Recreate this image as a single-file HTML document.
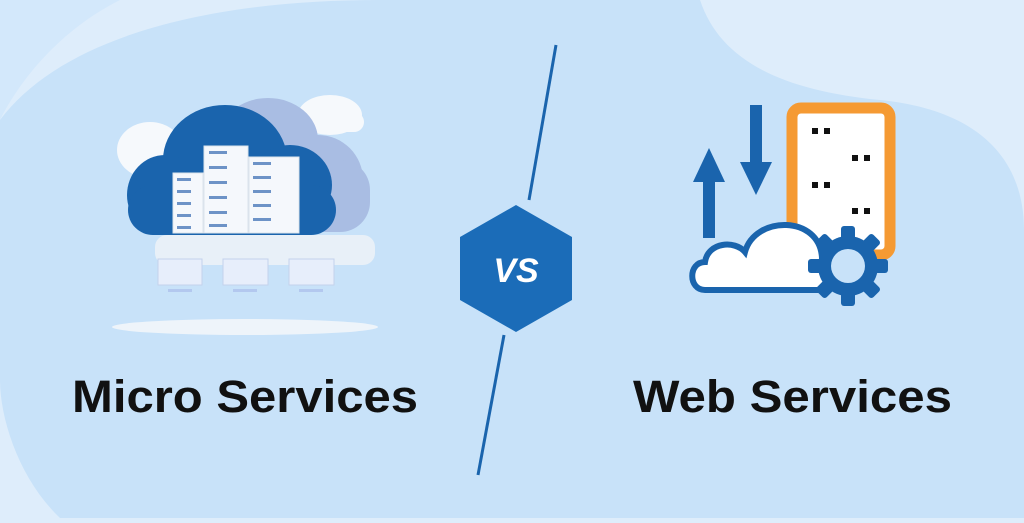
<!DOCTYPE html>
<html><head><style>
body{margin:0;width:1024px;height:518px;overflow:hidden;background:#deedfb}
text{font-family:"Liberation Sans",sans-serif;font-weight:bold}
</style></head><body>
<svg width="1024" height="518" viewBox="0 0 1024 518">
<rect width="1024" height="518" fill="#deedfb"/>
<path d="M0 120 C60 40 200 0 380 0 L700 0 C720 60 780 90 880 100 C980 110 1024 160 1024 230 L1024 518 L60 518 C20 480 0 420 0 380 Z" fill="#c8e2f9"/>
<path d="M0 0 L120 0 C60 30 20 80 0 120 Z" fill="#d3e8fb"/>
<ellipse cx="245" cy="327" rx="133" ry="8" fill="#eef4fa"/>
<g fill="#f6f9fc">
<ellipse cx="150" cy="150" rx="33" ry="28"/><ellipse cx="330" cy="115" rx="32" ry="20"/><rect x="298" y="112" width="66" height="20" rx="10"/>
<rect x="155" y="235" width="220" height="30" rx="12" fill="#e8f0f8"/>
</g>
<g fill="#a9bde3">
<ellipse cx="268" cy="140" rx="50" ry="42"/><ellipse cx="318" cy="180" rx="45" ry="45"/><rect x="250" y="160" width="120" height="72" rx="30"/>
</g>
<g fill="#1a64ad">
<ellipse cx="225" cy="160" rx="62" ry="55"/><ellipse cx="165" cy="195" rx="38" ry="40"/><ellipse cx="290" cy="185" rx="42" ry="40"/><rect x="128" y="185" width="208" height="50" rx="25"/>
</g>
<g fill="#f5f8fc" stroke="#dbe3ec">
<rect x="173" y="173" width="30" height="60"/><rect x="204" y="146" width="44" height="87"/><rect x="249" y="157" width="50" height="76"/>
</g>
<g fill="#6d93c7">
<rect x="177" y="178" width="14" height="3"/><rect x="177" y="190" width="14" height="3"/><rect x="177" y="202" width="14" height="3"/><rect x="177" y="214" width="14" height="3"/><rect x="177" y="226" width="14" height="3"/>
<rect x="209" y="151" width="18" height="3"/><rect x="209" y="166" width="18" height="3"/><rect x="209" y="181" width="18" height="3"/><rect x="209" y="196" width="18" height="3"/><rect x="209" y="211" width="18" height="3"/><rect x="209" y="224" width="18" height="3"/>
<rect x="253" y="162" width="18" height="3"/><rect x="253" y="176" width="18" height="3"/><rect x="253" y="190" width="18" height="3"/><rect x="253" y="204" width="18" height="3"/><rect x="253" y="218" width="18" height="3"/>
</g>
<g fill="#e7eefb" stroke="#c3d2ec">
<rect x="158" y="259" width="44" height="26"/><rect x="223" y="259" width="45" height="26"/><rect x="289" y="259" width="45" height="26"/>
</g>
<g fill="#b3c8ef"><rect x="168" y="289" width="24" height="3"/><rect x="233" y="289" width="24" height="3"/><rect x="299" y="289" width="24" height="3"/></g>
<line x1="556" y1="45" x2="529" y2="200" stroke="#1a64ad" stroke-width="3"/>
<line x1="504" y1="335" x2="478" y2="475" stroke="#1a64ad" stroke-width="3"/>
<polygon points="516,205 572,237 572,300 516,332 460,300 460,237" fill="#1b6cb8"/>
<text x="516" y="282" font-size="34" font-style="italic" fill="#fff" text-anchor="middle">VS</text>
<rect x="792" y="108" width="98" height="147" rx="9" fill="#fff" stroke="#f59a33" stroke-width="11"/>
<g fill="#111"><rect x="812" y="128" width="6" height="6"/><rect x="824" y="128" width="6" height="6"/>
<rect x="852" y="155" width="6" height="6"/><rect x="864" y="155" width="6" height="6"/>
<rect x="812" y="182" width="6" height="6"/><rect x="824" y="182" width="6" height="6"/>
<rect x="852" y="208" width="6" height="6"/><rect x="864" y="208" width="6" height="6"/></g>
<g fill="#1a64ad">
<rect x="703" y="175" width="12" height="63"/><polygon points="693,182 709,148 725,182"/>
<rect x="750" y="105" width="12" height="60"/><polygon points="740,162 756,195 772,162"/>
</g>
<path d="M705 290 C688 290 688 262 705 262 C708 242 735 240 745 252 C755 215 820 215 822 258 C845 258 845 290 822 290 Z" fill="#fff" stroke="#1a64ad" stroke-width="6"/>
<g transform="translate(848,266)">
<circle r="30" fill="#1a64ad"/>
<g fill="#1a64ad"><rect x="-7" y="-40" width="14" height="80" rx="3"/><rect x="-7" y="-40" width="14" height="80" rx="3" transform="rotate(45)"/><rect x="-7" y="-40" width="14" height="80" rx="3" transform="rotate(90)"/><rect x="-7" y="-40" width="14" height="80" rx="3" transform="rotate(135)"/></g>
<circle r="17" fill="#c8e2f9"/>
</g>
<text x="72" y="412" font-size="45" fill="#111" textLength="346" lengthAdjust="spacingAndGlyphs">Micro Services</text>
<text x="633" y="412" font-size="45" fill="#111" textLength="319" lengthAdjust="spacingAndGlyphs">Web Services</text>
</svg>
</body></html>
